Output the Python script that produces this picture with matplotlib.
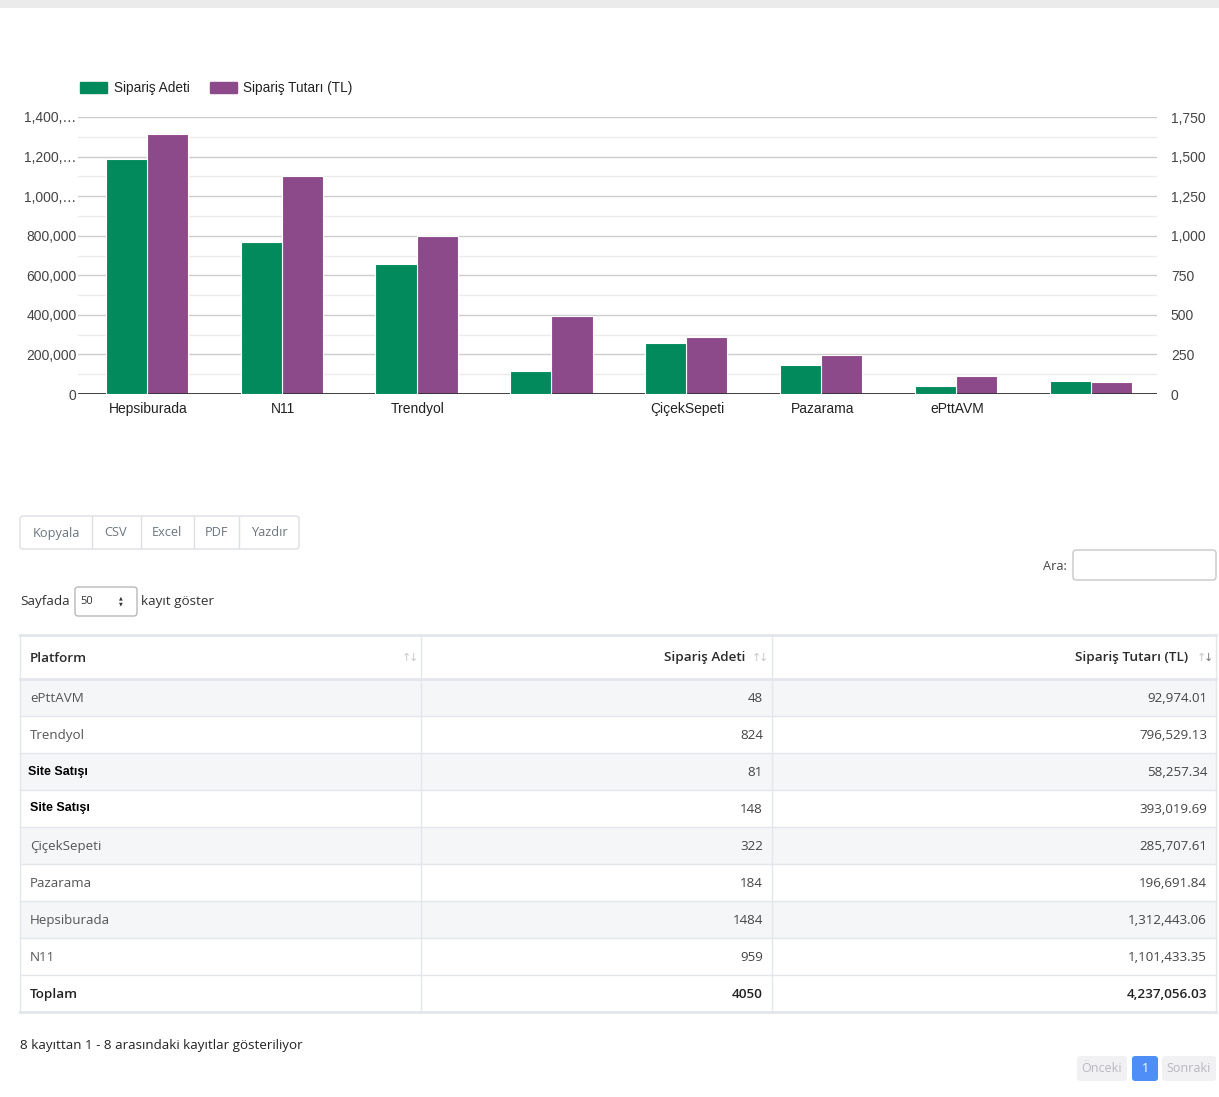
import numpy as np
import matplotlib
matplotlib.use("Agg")
import matplotlib.pyplot as plt
from matplotlib.patches import Rectangle, FancyBboxPatch, Patch
from matplotlib.lines import Line2D
from matplotlib.ticker import FuncFormatter, MultipleLocator

# chart data (bar order as in the chart, blank labels are the "Site Satışı" rows)
categories = ["Hepsiburada", "N11", "Trendyol", "", "ÇiçekSepeti", "Pazarama", "ePttAVM", ""]
adet = [1484, 959, 824, 148, 322, 184, 48, 81]
tutar = [1312443.06, 1101433.35, 796529.13, 393019.69, 285707.61, 196691.84, 92974.01, 58257.34]

# table data (table order)
tbl_platform = ["ePttAVM", "Trendyol", "Site Satışı", "Site Satışı", "ÇiçekSepeti",
                "Pazarama", "Hepsiburada", "N11"]
tbl_adet = ["48", "824", "81", "148", "322", "184", "1484", "959"]
tbl_tutar = ["92,974.01", "796,529.13", "58,257.34", "393,019.69", "285,707.61",
             "196,691.84", "1,312,443.06", "1,101,433.35"]
total_adet = "4050"
total_tutar = "4,237,056.03"

GREEN = "#028a5c"
PURPLE = "#8c4a8a"
W, H = 1219, 1097
CHART_FONT = ["Liberation Sans", "DejaVu Sans"]
UI_FONT = ["Open Sans", "DejaVu Sans"]

fig = plt.figure(figsize=(W / 100, H / 100), dpi=100)


def px(x, y):
    return x / W, 1 - y / H


def box(x0, y0, x1, y1, fc="white", ec="none", lw=1.0, r=0, z=1):
    if r:
        p = FancyBboxPatch((x0 / W, 1 - y1 / H), (x1 - x0) / W, (y1 - y0) / H,
                           boxstyle="round,pad=0,rounding_size=%f" % (r / H),
                           transform=fig.transFigure, fc=fc, ec=ec, lw=lw, zorder=z)
    else:
        p = Rectangle((x0 / W, 1 - y1 / H), (x1 - x0) / W, (y1 - y0) / H,
                      transform=fig.transFigure, fc=fc, ec=ec, lw=lw, zorder=z)
    fig.add_artist(p)


def hline(x0, x1, y, color="#e3e6ea", lw=1.0):
    fig.add_artist(Line2D([x0 / W, x1 / W], [1 - y / H, 1 - y / H], color=color, lw=lw,
                          transform=fig.transFigure, zorder=3))


def vline(x, y0, y1, color="#e3e6ea", lw=1.0):
    fig.add_artist(Line2D([x / W, x / W], [1 - y0 / H, 1 - y1 / H], color=color, lw=lw,
                          transform=fig.transFigure, zorder=3))


def txt(x, y, s, size=9.5, color="#555555", ha="left", weight="normal", family=UI_FONT):
    fig.text(*px(x, y), s, ha=ha, va="center", fontsize=size, color=color,
             fontweight=weight, family=family, zorder=5)


# top grey band
box(0, 0, W, 8, fc="#ebebeb", z=0)

# ---- chart ----
ax = fig.add_axes([78 / W, 1 - 394 / H, (1157 - 78) / W, (394 - 117) / H])
ax2 = ax.twinx()
x = np.arange(len(categories))
bw = 0.305
ax2.bar(x - bw / 2 + 0.01, adet, bw, color=GREEN, edgecolor="white", linewidth=0.8, zorder=3)
ax.bar(x + bw / 2 + 0.01, tutar, bw, color=PURPLE, edgecolor="white", linewidth=0.8, zorder=3)
ax.set_xlim(-0.5, len(categories) - 0.5)
ax.set_ylim(0, 1400000)
ax2.set_ylim(0, 1750)
ax.yaxis.set_major_locator(MultipleLocator(200000))
ax.yaxis.set_minor_locator(MultipleLocator(100000))
ax2.yaxis.set_major_locator(MultipleLocator(250))


def left_fmt(v, pos):
    s = "{:,.0f}".format(v)
    return s if len(s) <= 7 else s[:6] + "…"


ax.yaxis.set_major_formatter(FuncFormatter(left_fmt))
ax2.yaxis.set_major_formatter(FuncFormatter(lambda v, p: "{:,.0f}".format(v)))
ax.grid(axis="y", which="major", color="#cccccc", lw=1.0, zorder=0)
ax.grid(axis="y", which="minor", color="#ebebeb", lw=1.0, zorder=0)
ax.set_axisbelow(True)
for a in (ax, ax2):
    for sp in a.spines.values():
        sp.set_visible(False)
ax.axhline(0, color="#333333", lw=1.3, zorder=4)
ax.set_xticks(x + 0.02)
ax.set_xticklabels(categories)
ax.tick_params(axis="x", length=0, pad=6, labelsize=10, labelcolor="#222222")
ax.tick_params(axis="y", which="both", length=0, pad=1, labelsize=10, labelcolor="#444444")
ax2.tick_params(axis="y", length=0, pad=10, labelsize=10, labelcolor="#444444")
for lab in ax.get_xticklabels() + ax.get_yticklabels() + ax2.get_yticklabels():
    lab.set_family(CHART_FONT)

handles = [Patch(color=GREEN, label="Sipariş Adeti"),
           Patch(color=PURPLE, label="Sipariş Tutarı (TL)")]
fig.legend(handles=handles, loc="center left", bbox_to_anchor=px(68, 88), ncol=2,
           frameon=False, handlelength=2.0, handleheight=0.9, handletextpad=0.45,
           columnspacing=1.5, prop={"family": CHART_FONT, "size": 9.8},
           labelcolor="#222222")

# ---- buttons ----
box(20, 516, 299, 549, fc="white", ec="#dcdfe3", lw=1.0, r=3)
for bx in [92, 141, 194, 239]:
    vline(bx, 517, 548, color="#dcdfe3")
for label, cx in [("Kopyala", 56), ("CSV", 116), ("Excel", 167), ("PDF", 216), ("Yazdır", 269)]:
    txt(cx, 533, label, size=9.2, color="#6c757d", ha="center")

# search
txt(1067, 566, "Ara:", size=9.2, color="#444444", ha="right")
box(1073, 550, 1216, 580, fc="white", ec="#c8c8c8", lw=1.0, r=3)

# page length
txt(20, 602, "Sayfada", size=9.7, color="#333333")
box(75, 587, 137, 616, fc="white", ec="#b8b8b8", lw=1.0, r=3)
txt(80, 601, "50", size=8, color="#333333")
txt(121, 598, "▲", size=3.5, color="#333333", ha="center", family=["DejaVu Sans"])
txt(121, 604, "▼", size=3.5, color="#333333", ha="center", family=["DejaVu Sans"])
txt(141, 602, "kayıt göster", size=9.7, color="#333333")

# ---- table ----
tx0, tx1 = 20, 1216
cols = [20, 421, 772, 1216]
head_top, head_bot = 635, 679
row_h = 37
n_rows = len(tbl_platform) + 1
box(tx0, head_top, tx1, head_bot, fc="white", z=1)
for i in range(n_rows):
    y0 = head_bot + i * row_h
    fc = "#f5f6f8" if (i % 2 == 0 and i < len(tbl_platform)) else "white"
    box(tx0, y0, tx1, y0 + row_h, fc=fc, z=1)
    if i > 0:
        hline(tx0, tx1, y0)
hline(tx0, tx1, head_top, color="#e3e6ea", lw=2)
hline(tx0, tx1, head_bot, color="#e3e6ea", lw=2)
hline(tx0, tx1, head_bot + n_rows * row_h, color="#e3e6ea", lw=2)
for cx in cols:
    vline(cx, head_top, head_bot + n_rows * row_h)

# header
hy = 658
txt(30, hy, "Platform", size=9.7, color="#2a2a2a", weight="semibold")
txt(745, hy, "Sipariş Adeti", size=9.7, color="#2a2a2a", ha="right", weight="semibold")
txt(1188, hy, "Sipariş Tutarı (TL)", size=9.7, color="#2a2a2a", ha="right", weight="semibold")
for ax_x, dark in [(402, False), (752, False), (1197, True)]:
    txt(ax_x, hy, "↑", size=8, color="#c8c8c8", family=["DejaVu Sans"])
    txt(ax_x + 7, hy, "↓", size=8, color="#777777" if dark else "#c8c8c8",
        family=["DejaVu Sans"])

# body
for i, (p, a, t) in enumerate(zip(tbl_platform, tbl_adet, tbl_tutar)):
    cy = head_bot + i * row_h + row_h / 2 + 1
    if p == "Site Satışı":
        fig.text(*px(28 + (i == 3) * 2, cy - 2 * (i == 3)), p, ha="left", va="center",
                 fontsize=9, color="black", fontweight="bold",
                 family=CHART_FONT, zorder=5)
    else:
        txt(30, cy, p, size=9.6, color="#555555")
    txt(763, cy, a, size=9.6, color="#444444", ha="right")
    txt(1207, cy, t, size=9.6, color="#444444", ha="right")

cy = head_bot + (n_rows - 1) * row_h + row_h / 2 + 1
txt(30, cy, "Toplam", size=9.7, color="#222222", weight="semibold")
txt(763, cy, total_adet, size=9.7, color="#222222", ha="right", weight="semibold")
txt(1207, cy, total_tutar, size=9.7, color="#222222", ha="right", weight="semibold")

# footer
txt(20, 1045, "8 kayıttan 1 - 8 arasındaki kayıtlar gösteriliyor", size=9.6, color="#222222")
box(1077, 1056, 1127, 1081, fc="#f1f1f4", r=3)
box(1132, 1056, 1158, 1081, fc="#4f8ef7", r=3)
box(1162, 1056, 1216, 1081, fc="#f1f1f4", r=3)
txt(1102, 1069, "Önceki", size=9, color="#b8b8c0", ha="center")
txt(1145, 1069, "1", size=9, color="white", ha="center")
txt(1189, 1069, "Sonraki", size=9, color="#b8b8c0", ha="center")

fig.savefig("out.png", dpi=100)
